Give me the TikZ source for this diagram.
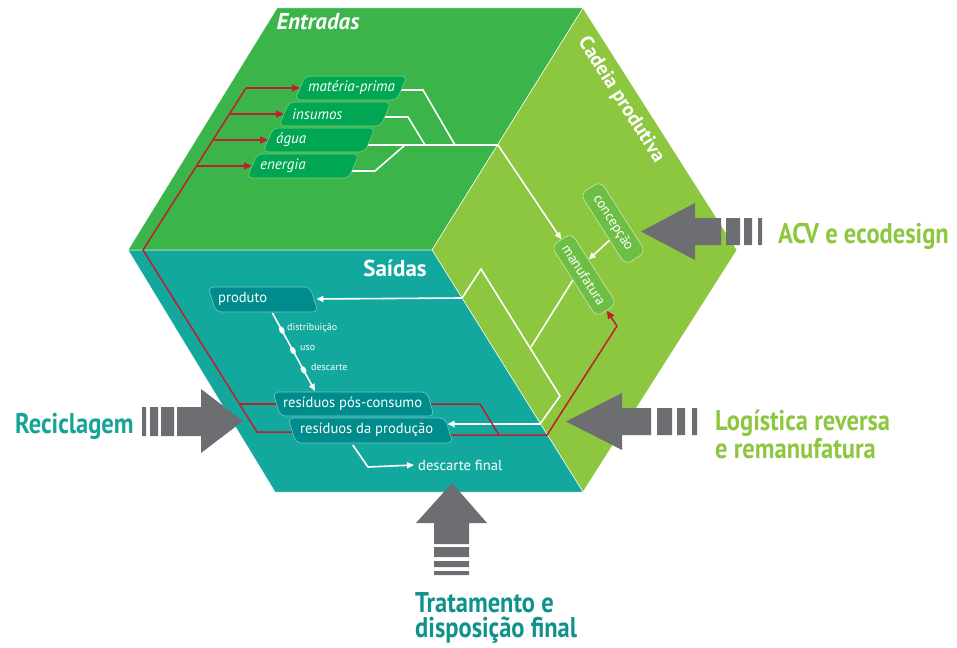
\documentclass[tikz,border=0pt]{standalone}
\usepackage{fontspec}
\setmainfont{PT Sans}
\newfontfamily\condfont[FakeStretch=0.86]{PT Sans}
\usetikzlibrary{arrows.meta,calc,shapes.geometric}
\definecolor{topface}{RGB}{59,181,74}
\definecolor{rightface}{RGB}{141,198,63}
\definecolor{frontface}{RGB}{19,168,158}
\definecolor{entboxc}{RGB}{0,166,81}
\definecolor{entborder}{RGB}{120,205,130}
\definecolor{saiboxc}{RGB}{0,140,140}
\definecolor{saiborder}{RGB}{110,200,195}
\definecolor{cadboxc}{RGB}{108,190,69}
\definecolor{cadborder}{RGB}{205,232,175}
\definecolor{redc}{RGB}{190,30,45}
\definecolor{grayc}{RGB}{109,110,113}
\definecolor{tealtext}{RGB}{23,164,152}
\definecolor{tealtextb}{RGB}{16,146,140}
\definecolor{greentext}{RGB}{141,198,63}
\pgfdeclarelayer{faces}
\pgfdeclarelayer{lines}
\pgfsetlayers{faces,lines,main}
\begin{document}
\begin{tikzpicture}[x=1pt,y=-1pt,
  face/.style={draw=white, line width=0.5pt},
  entbox/.style={fill=entboxc, draw=entborder, line width=0.6pt, rounded corners=5pt},
  entlbl/.style={font=\fontsize{15}{17}\selectfont\itshape, text=white, inner sep=0pt, anchor=west},
  saibox/.style={fill=saiboxc, draw=saiborder, line width=0.6pt, rounded corners=5pt},
  sailbl/.style={font=\fontsize{14.6}{16}\selectfont, text=white, inner sep=0pt, anchor=west},
  cadbox/.style={fill=cadboxc, draw=cadborder, line width=0.6pt, rounded corners=7pt,
     minimum width=84pt, minimum height=24pt, inner sep=0pt, rotate=-57.5,
     text=white, font=\fontsize{14}{16}\selectfont},
  chainlbl/.style={font=\fontsize{10}{11}\selectfont, text=white, inner sep=0pt, anchor=west},
  bead/.style={ellipse, fill=white, inner sep=0pt, minimum width=8pt, minimum height=5pt, sloped},
  redln/.style={draw=redc, line width=1.5pt},
  redarr/.style={redln, -{Triangle[length=8pt,width=7pt]}},
  whiteln/.style={draw=white, line width=1.6pt},
  whitearr/.style={whiteln, -{Triangle[length=7pt,width=6pt]}},
  biglbl/.style={font=\condfont\bfseries\fontsize{28.5}{30}\selectfont, inner sep=0pt, anchor=base west},
  facelbl/.style={font=\bfseries\fontsize{23}{25}\selectfont, text=white, inner sep=0pt}]
\path[use as bounding box] (0,0) rectangle (957,647);

% ---------- faces ----------
\begin{pgfonlayer}{faces}
\filldraw[face, fill=topface] (277,8) -- (583,8) -- (432,250) -- (128,250) -- cycle;
\filldraw[face, fill=rightface] (583,8) -- (737,250) -- (583,492) -- (432,250) -- cycle;
\filldraw[face, fill=frontface] (128,250) -- (432,250) -- (583,492) -- (275,492) -- cycle;
\end{pgfonlayer}

% ---------- face titles ----------
\node[facelbl, font=\bfseries\itshape\fontsize{23}{25}\selectfont] (ent) at (318,22) {Entradas};
\node[facelbl] (sai) at (395,268) {Saídas};
\node[facelbl, font=\bfseries\fontsize{20}{22}\selectfont, rotate=-57.5] (cad) at (621,100) {Cadeia produtiva};

% ---------- Entradas boxes ----------
\draw[entbox] (305,76) -- (407,76) -- (397,100) -- (295,100) -- cycle;
\node[entlbl] (mp) at (308,88) {matéria-prima};
\draw[entbox] (289,102) -- (391,102) -- (381,126) -- (279,126) -- cycle;
\node[entlbl] (ins) at (292,114) {insumos};
\draw[entbox] (273,128) -- (375,128) -- (365,152) -- (263,152) -- cycle;
\node[entlbl] (ag) at (276,140) {água};
\draw[entbox] (257,154) -- (359,154) -- (349,178) -- (247,178) -- cycle;
\node[entlbl] (en) at (260,166) {energia};

% ---------- Saidas boxes ----------
\draw[saibox] (208,287) -- (310,287) -- (318,312) -- (216,312) -- cycle;
\node[sailbl] (pr) at (218,299) {produto};
\draw[saibox] (273,392) -- (427,392) -- (434,416) -- (280,416) -- cycle;
\node[sailbl] (rpc) at (283,404) {resíduos pós-consumo};
\draw[saibox] (288,418) -- (445,418) -- (453,443) -- (296,443) -- cycle;
\node[sailbl] (rdp) at (300,430) {resíduos da produção};
\node[sailbl] (df) at (418,465) {descarte final};

% ---------- Cadeia produtiva boxes ----------
\node[cadbox] (cp) at (613,223) {concepção};
\node[cadbox] (mf) at (584,275) {manufatura};

% ---------- connectors ----------
\begin{pgfonlayer}{lines}
% entradas -> manufatura
\draw[whiteln] ([yshift=-2pt]mp.center) -- (423,90) -- (455,145);
\draw[whiteln] ([yshift=-3pt]ins.center) -- (408,117) -- (425,145);
\draw[whiteln] ([yshift=-5pt]en.center) -- (375,171) -- (405,145);
\draw[whitearr] ([yshift=-5pt]ag.center) -- (498,145) -- (mf.west);
% manufatura -> saidas
\draw[whiteln] ([xshift=-8pt]mf.center) -- (531,347);
\draw[whitearr] (462,298) -- ([xshift=49pt]pr.east);
\draw[whitearr] (462,298) -- (481,269) -- (560,396) -- (540,424) -- ([xshift=14pt,yshift=6pt]rdp.east);
% chain produto -> residuos pos-consumo
\draw[whitearr] ([xshift=5pt,yshift=-14pt]pr.east) -- ([xshift=32pt,yshift=13pt]rpc.west)
   node[bead, pos=0.22] (b1) {} node[bead, pos=0.48] (b2) {} node[bead, pos=0.73] (b3) {};
% descarte final
\draw[whitearr] ([xshift=-14pt,yshift=-8pt]rdp.south) -- (368,467) -- ([xshift=-4pt]df.west);
% red loops
\draw[redln] ([yshift=-2pt]rdp.west) -- (257,432) -- (143,250) -- (246,88);
\draw[redln] (rpc.west) -- (239.5,404);
\draw[redarr] (246,88) -- ([xshift=-8pt]mp.west);
\draw[redarr] (229.8,114) -- ([xshift=-8pt]ins.west);
\draw[redarr] (213.2,140) -- ([xshift=-8pt]ag.west);
\draw[redarr] (196.6,166) -- ([xshift=-8pt]en.west);
\draw[redln] (rpc.east) -- (480,404) -- (499,435);
\draw[redln] ([yshift=-5pt]rdp.east) -- (547,435) -- (617,326);
\draw[redarr] (617,326) -- (mf.east);
\end{pgfonlayer}
\draw[whitearr] ($(cp.south)!0.3!(cp.south east)$) -- ($(mf.north)!0.25!(mf.north west)$);

% chain labels
\node[chainlbl] (l1) at (287,328) {distribuição};
\node[chainlbl] (l2) at (300,348) {uso};
\node[chainlbl] (l3) at (311,367) {descarte};

% ---------- gray arrows ----------
\fill[grayc] (177,407) -- (201,407) -- (201,389) -- (243,421) -- (201,453) -- (201,436) -- (177,436) -- cycle;
\fill[grayc] (142,407) rectangle (146,436) (150,407) rectangle (158,436) (161,407) rectangle (174,436);
\fill[grayc] (721,218) -- (695,218) -- (695,203) -- (641,231.5) -- (695,260) -- (695,245) -- (721,245) -- cycle;
\fill[grayc] (726,218) rectangle (740,245) (744,218) rectangle (752,245) (758,218) rectangle (762,245);
\fill[grayc] (651,408) -- (622,408) -- (622,393) -- (566,421.5) -- (622,450) -- (622,435) -- (651,435) -- cycle;
\fill[grayc] (657,408) rectangle (672,435) (677,408) rectangle (685,435) (692,408) rectangle (697,435);
\fill[grayc] (434,544) -- (434,523) -- (416,523) -- (452,483) -- (487,523) -- (469,523) -- (469,544) -- cycle;
\fill[grayc] (434,547) rectangle (469,557) (434,561) rectangle (469,567) (434,571) rectangle (469,575);

% ---------- outer labels ----------
\node[biglbl, text=tealtext] (recic) at (15,433) {Reciclagem};
\node[biglbl, text=greentext] (acv) at (778,243) {ACV e ecodesign};
\node[biglbl, text=greentext] (log1) at (715,430) {Logística reversa};
\node[biglbl, text=greentext] (log2) at (715,458) {e remanufatura};
\node[biglbl, text=tealtextb] (tr1) at (415,612) {Tratamento e};
\node[biglbl, text=tealtextb] (tr2) at (415,637) {disposição final};
\end{tikzpicture}
\end{document}
